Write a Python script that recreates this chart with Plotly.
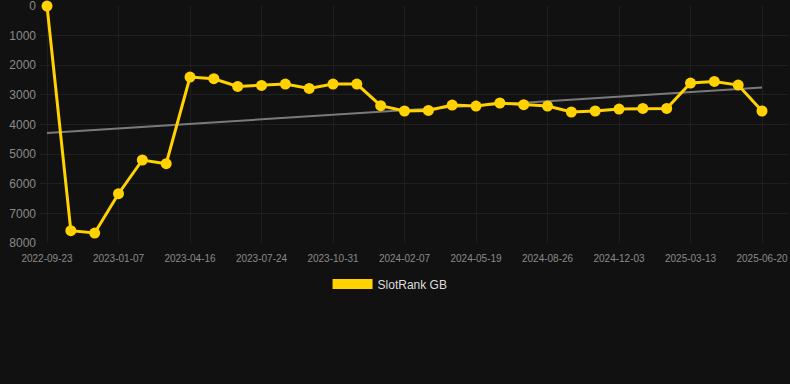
import numpy as np
import plotly.graph_objects as go

dates = [
    "2022-09-23", "2022-10-28", "2022-12-02", "2023-01-07", "2023-02-09", "2023-03-14",
    "2023-04-16", "2023-05-19", "2023-06-21", "2023-07-24", "2023-08-26", "2023-09-28",
    "2023-10-31", "2023-12-03", "2024-01-05", "2024-02-07", "2024-03-12", "2024-04-15",
    "2024-05-19", "2024-06-21", "2024-07-24", "2024-08-26", "2024-09-28", "2024-10-31",
    "2024-12-03", "2025-01-05", "2025-02-08", "2025-03-13", "2025-04-15", "2025-05-18",
    "2025-06-20",
]
rank_gb = [
    1, 7585, 7663, 6336, 5198, 5323,
    2397, 2454, 2714, 2680, 2633, 2781,
    2633, 2633, 3365, 3544, 3524, 3342,
    3376, 3274, 3332, 3376, 3578, 3544,
    3477, 3457, 3457, 2599, 2545, 2667,
    3544,
]
tick_dates = dates[::3]
y_ticks = [0, 1000, 2000, 3000, 4000, 5000, 6000, 7000, 8000]
series_name = "SlotRank GB"

# linear trend fitted to the series
idx = np.arange(len(rank_gb))
slope, intercept = np.polyfit(idx, rank_gb, 1)
trend = (slope * idx + intercept).tolist()

YELLOW = "#FFD200"
BG = "#111111"
GRID = "#1f1f1f"

fig = go.Figure()
fig.add_trace(go.Scatter(
    x=dates, y=trend, mode="lines",
    line=dict(color="#7a7a7a", width=2),
    showlegend=False, hoverinfo="skip",
))
fig.add_trace(go.Scatter(
    x=dates, y=rank_gb, mode="lines+markers",
    line=dict(color=YELLOW, width=3),
    marker=dict(color=YELLOW, size=11),
    name=series_name, showlegend=False, cliponaxis=False,
))
# legend entry drawn as a thick bar-like line
fig.add_trace(go.Scatter(
    x=[None], y=[None], mode="lines",
    line=dict(color=YELLOW, width=12),
    name=series_name, showlegend=True,
))

fig.update_layout(
    width=790, height=384,
    paper_bgcolor=BG, plot_bgcolor=BG,
    margin=dict(l=40, r=2, t=6, b=141, autoexpand=False),
    font=dict(family="Liberation Sans, Arial, sans-serif", color="#8a8a8a"),
    showlegend=True,
    legend=dict(
        orientation="h", x=0.468, xanchor="center",
        y=-0.173, yanchor="middle",
        font=dict(size=12, color="#dddddd"), itemwidth=40,
        bgcolor="rgba(0,0,0,0)",
    ),
    xaxis=dict(
        type="category", categoryorder="array", categoryarray=dates,
        range=[-0.294, 31.09], automargin=False, tickangle=0,
        tickmode="array", tickvals=tick_dates, ticktext=tick_dates,
        tickfont=dict(size=10, color="#8a8a8a"), ticklabeloverflow="allow",
        showgrid=True, gridcolor=GRID, gridwidth=1,
        showline=False, zeroline=False, ticks="", ticklabelstandoff=8,
    ),
    yaxis=dict(
        range=[8000, -1], tickmode="array", automargin=False,
        tickvals=y_ticks, ticklabeloverflow="allow",
        tickfont=dict(size=12, color="#8a8a8a"),
        showgrid=True, gridcolor=GRID, gridwidth=1,
        zeroline=False, showline=False, ticks="", ticklabelstandoff=3,
    ),
)

fig.write_html(
    "out.html",
    config={"displayModeBar": False},
    post_script="document.body.style.margin='0';document.body.style.background='#111111';",
)
